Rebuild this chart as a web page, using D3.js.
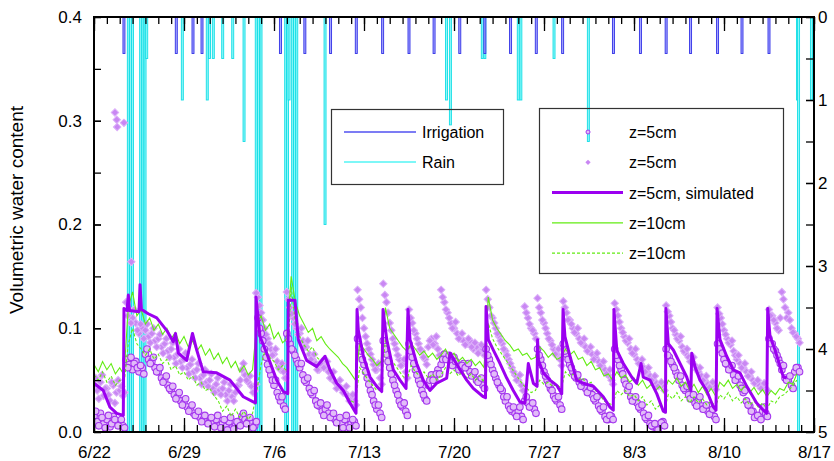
<!DOCTYPE html>
<meta charset="utf-8">
<style>
body { margin: 0; background: #fff; }
svg text { font-family: "Liberation Sans", Arial, sans-serif; fill: #000; }
.axis path { display: none; }
.axis line { stroke: #000; stroke-width: 1.3px; }
.axis text { font-size: 17px; }
.legend text { font-size: 16px; }
</style>
<body>
<script src="https://d3js.org/d3.v7.min.js"></script>
<script>

// days are counted from 6/22
var xTickDays = [0, 7, 14, 21, 28, 35, 42, 49, 56];
var xTickLabels = ["6/22", "6/29", "7/6", "7/13", "7/20", "7/27", "8/3", "8/10", "8/17"];
var leftTicks = [0, 0.1, 0.2, 0.3, 0.4];
var leftTickLabels = ["0.0", "0.1", "0.2", "0.3", "0.4"];
var rightTicks = [0, 1, 2, 3, 4, 5];

// irrigation and rain, hanging from the top (right axis)
var irrigationDays = [2.33, 6.4, 7.7, 8.4, 14.5, 16.4, 18.4, 20.4, 22.45, 24.5, 26.45, 28.45,
  30.4, 32.4, 34.4, 36.45, 40.4, 42.5, 44.5, 46.4, 48.5, 50.4, 52.5];
var irrigationAmount = [0.44, 0.44, 0.44, 0.44, 0.44, 0.44, 0.44, 0.44, 0.44, 0.44, 0.44, 0.44,
  0.44, 0.44, 0.44, 0.44, 0.44, 0.44, 0.44, 0.44, 0.44, 0.44, 0.44];
var rainDays = [2.67, 2.84, 2.99, 3.63, 3.8, 3.97, 4.1, 6.87, 8.81, 8.98, 9.28, 10.01, 10.79,
  11.67, 12.62, 12.8, 12.99, 14.91, 15.05, 15.17, 15.45, 15.6, 15.77, 17.97, 27.42, 27.72,
  30.2, 30.4, 33.0, 33.2, 35.78, 38.45, 54.72, 54.8, 55.8];
var rainAmount = [8, 8, 8, 8, 8, 8, 0.5, 1.0, 1.0, 0.5, 0.5, 0.5, 0.5,
  1.5, 8, 8, 8, 8, 8, 1.0, 8, 8, 8, 2.5, 1.0, 1.3,
  0.5, 0.5, 1.0, 1.0, 0.5, 1.5, 1.0, 8, 1.0];

// z=5cm simulated
var simDays = [0, 0.72, 1.24, 1.77, 2.28, 2.33, 2.57, 2.67, 2.76, 3.5, 3.58, 3.69, 3.97, 4.22,
  4.88, 5.65, 6.17, 6.34, 6.56, 7.21, 7.66, 7.99, 8.5, 9.54, 10.58, 11.61, 12.39, 12.56, 12.6,
  12.91, 13.43, 14.21, 14.72, 15.07, 15.11, 15.63, 15.89, 16.54, 17.32, 17.97, 18.36, 18.88,
  19.39, 19.91, 20.38, 20.46, 20.56, 20.95, 21.47, 21.99, 22.38, 22.48, 22.77, 23.28, 23.8,
  24.27, 24.42, 24.58, 25.1, 25.61, 26.13, 26.65, 27.43, 27.69, 28.47, 28.99, 29.5, 30.28,
  30.45, 30.49, 30.67, 31.06, 31.58, 32.1, 32.61, 33.13, 33.52, 33.78, 34.17, 34.46, 34.5,
  34.57, 34.95, 35.47, 35.99, 36.38, 36.48, 36.63, 37.02, 37.54, 38.06, 38.84, 39.61, 40.13,
  40.39, 40.44, 40.66, 41.17, 41.82, 42.21, 42.55, 42.72, 43.25, 43.77, 44.28, 44.45, 44.48,
  44.67, 45.06, 45.58, 46.1, 46.43, 46.49, 46.74, 47.13, 47.65, 48.17, 48.38, 48.46, 48.69,
  49.21, 49.72, 50.24, 50.77, 51.54, 52.06, 52.32, 52.4, 52.58, 52.97, 53.36, 53.62, 53.88];
var simValues = [0.047, 0.040, 0.024, 0.018, 0.016, 0.119, 0.117, 0.132, 0.117, 0.116, 0.142, 0.118, 0.116, 0.114,
  0.110, 0.098, 0.087, 0.095, 0.076, 0.069, 0.095, 0.079, 0.058, 0.057, 0.050, 0.034, 0.029, 0.028, 0.130,
  0.092, 0.076, 0.050, 0.039, 0.037, 0.127, 0.127, 0.089, 0.069, 0.063, 0.073, 0.060, 0.047,
  0.040, 0.028, 0.018, 0.118, 0.098, 0.073, 0.053, 0.044, 0.039, 0.118, 0.089, 0.060, 0.050,
  0.042, 0.118, 0.089, 0.066, 0.050, 0.040, 0.047, 0.052, 0.076, 0.060, 0.050, 0.042, 0.034,
  0.033, 0.121, 0.089, 0.079, 0.066, 0.052, 0.040, 0.029, 0.028, 0.066, 0.047, 0.044, 0.089,
  0.069, 0.057, 0.050, 0.045, 0.037, 0.118, 0.092, 0.073, 0.050, 0.047, 0.044, 0.034, 0.024,
  0.021, 0.118, 0.079, 0.066, 0.053, 0.047, 0.066, 0.053, 0.050, 0.037, 0.020, 0.019, 0.119,
  0.085, 0.079, 0.066, 0.053, 0.040, 0.076, 0.063, 0.050, 0.040, 0.024, 0.021, 0.119, 0.089,
  0.073, 0.060, 0.057, 0.044, 0.028, 0.021, 0.018, 0.119, 0.092, 0.079, 0.063, 0.053, 0.052];

// z=5cm observed, read every 3 hours from 6/22.
// "A" rows hold the readings at 0, 6, 12, 18 h; "B" rows the ones at 3, 9, 15, 21 h.
var obsStep = 0.25;
var obsCirclesA = [
  0.015, 0.010, 0.018, 0.008,   0.012, 0.005, 0.015, 0.010,   0.008, 0.006, 0.070, 0.065,
  0.060, 0.068, 0.058, 0.062,   0.075, 0.070, 0.068, 0.062,   0.058, 0.052, 0.050, 0.045,
  0.040, 0.036, 0.034, 0.030,   0.028, 0.024, 0.022, 0.018,   0.016, 0.014, 0.012, 0.010,
  0.010, 0.008, 0.012, 0.006,   0.008, 0.005, 0.010, 0.004,   0.006, 0.010, 0.015, 0.012,
  0.010, 0.008, 0.006, 0.110,   0.095, 0.080, 0.065, 0.055,   0.045, 0.038, 0.030, 0.025,
  0.095, 0.085, 0.078, 0.070,   0.062, 0.055, 0.048, 0.042,   0.036, 0.030, 0.025, 0.020,
  0.022, 0.018, 0.015, 0.012,   0.010, 0.008, 0.012, 0.006,   0.008, 0.010, 0.090, 0.078,
  0.065, 0.052, 0.040, 0.030,   0.022, 0.018, 0.088, 0.075,   0.062, 0.050, 0.040, 0.030,
  0.024, 0.020, 0.085, 0.072,   0.060, 0.050, 0.040, 0.032,   0.045, 0.055, 0.050, 0.060,
  0.065, 0.075, 0.070, 0.068,   0.072, 0.065, 0.060, 0.066,   0.062, 0.058, 0.055, 0.050,
  0.048, 0.045, 0.080, 0.070,   0.060, 0.052, 0.045, 0.040,   0.030, 0.025, 0.020, 0.018,
  0.020, 0.015, 0.030, 0.028,   0.025, 0.022, 0.080, 0.070,   0.058, 0.050, 0.042, 0.035,
  0.030, 0.026, 0.085, 0.075,   0.065, 0.058, 0.052, 0.048,   0.045, 0.042, 0.040, 0.036,
  0.030, 0.025, 0.020, 0.015,   0.012, 0.015, 0.080, 0.070,   0.060, 0.050, 0.040, 0.034,
  0.030, 0.028, 0.022, 0.018,   0.012, 0.008, 0.005, 0.004,   0.006, 0.010, 0.080, 0.072,
  0.065, 0.058, 0.050, 0.045,   0.040, 0.036, 0.032, 0.028,   0.030, 0.025, 0.022, 0.020,
  0.018, 0.015, 0.085, 0.080,   0.070, 0.065, 0.060, 0.055,   0.050, 0.045, 0.038, 0.030,
  0.025, 0.020, 0.015, 0.015,   0.020, 0.018, 0.090, 0.085,   0.078, 0.070, 0.060, 0.052,
  0.050, 0.045, 0.058, 0.062
];
var obsCirclesB = [
  0.020, 0.006, 0.014, 0.004,   0.016, 0.008, 0.012, 0.006,   0.012, 0.004, 0.062, 0.072,
  0.066, 0.062, 0.064, 0.056,   0.080, 0.066, 0.072, 0.058,   0.062, 0.048, 0.054, 0.042,
  0.044, 0.032, 0.038, 0.026,   0.032, 0.020, 0.026, 0.016,   0.020, 0.010, 0.016, 0.008,
  0.014, 0.005, 0.016, 0.004,   0.012, 0.002, 0.014, 0.003,   0.010, 0.006, 0.018, 0.008,
  0.014, 0.004, 0.010, 0.100,   0.088, 0.072, 0.060, 0.050,   0.050, 0.034, 0.034, 0.022,
  0.090, 0.080, 0.074, 0.066,   0.066, 0.050, 0.052, 0.038,   0.040, 0.026, 0.028, 0.016,
  0.026, 0.014, 0.018, 0.009,   0.014, 0.004, 0.016, 0.004,   0.012, 0.006, 0.082, 0.070,
  0.058, 0.046, 0.036, 0.026,   0.026, 0.014, 0.080, 0.068,   0.056, 0.045, 0.036, 0.026,
  0.028, 0.016, 0.078, 0.066,   0.055, 0.046, 0.036, 0.030,   0.050, 0.050, 0.056, 0.056,
  0.070, 0.070, 0.074, 0.064,   0.068, 0.060, 0.064, 0.062,   0.066, 0.054, 0.058, 0.048,
  0.052, 0.042, 0.074, 0.065,   0.056, 0.048, 0.042, 0.034,   0.034, 0.022, 0.024, 0.015,
  0.024, 0.012, 0.034, 0.024,   0.028, 0.018, 0.074, 0.064,   0.054, 0.046, 0.040, 0.032,
  0.034, 0.022, 0.078, 0.070,   0.062, 0.054, 0.055, 0.044,   0.048, 0.038, 0.043, 0.032,
  0.034, 0.022, 0.024, 0.012,   0.016, 0.012, 0.074, 0.064,   0.056, 0.046, 0.044, 0.030,
  0.034, 0.024, 0.026, 0.014,   0.016, 0.006, 0.008, 0.002,   0.009, 0.006, 0.074, 0.068,
  0.062, 0.054, 0.054, 0.042,   0.044, 0.032, 0.036, 0.025,   0.034, 0.022, 0.026, 0.017,
  0.022, 0.012, 0.080, 0.076,   0.066, 0.060, 0.064, 0.050,   0.054, 0.042, 0.040, 0.026,
  0.020, 0.014, 0.016, 0.012,   0.024, 0.015, 0.085, 0.080,   0.074, 0.066, 0.064, 0.050,
  0.054, 0.042, 0.062, 0.058
];
var obsDiamondsA = [
  0.045, 0.040, 0.048, 0.035,   0.042, 0.030, 0.045, 0.038,   0.040, 0.035, 0.125, 0.118,
  0.110, 0.105, 0.095, 0.100,   0.098, 0.092, 0.095, 0.088,   0.090, 0.082, 0.085, 0.078,
  0.080, 0.072, 0.075, 0.068,   0.070, 0.062, 0.065, 0.058,   0.060, 0.052, 0.055, 0.048,
  0.050, 0.042, 0.046, 0.040,   0.042, 0.036, 0.040, 0.034,   0.038, 0.045, 0.060, 0.055,
  0.048, 0.044, 0.040, 0.130,   0.115, 0.100, 0.090, 0.080,   0.075, 0.068, 0.060, 0.058,
  0.135, 0.120, 0.110, 0.100,   0.095, 0.088, 0.082, 0.075,   0.070, 0.066, 0.060, 0.068,
  0.062, 0.058, 0.052, 0.048,   0.045, 0.042, 0.038, 0.035,   0.032, 0.030, 0.137, 0.120,
  0.100, 0.085, 0.075, 0.065,   0.060, 0.052, 0.143, 0.125,   0.105, 0.090, 0.080, 0.070,
  0.065, 0.058, 0.118, 0.105,   0.095, 0.085, 0.078, 0.070,   0.082, 0.090, 0.085, 0.080,
  0.137, 0.125, 0.115, 0.105,   0.100, 0.095, 0.090, 0.088,   0.085, 0.088, 0.080, 0.082,
  0.078, 0.080, 0.137, 0.120,   0.110, 0.100, 0.092, 0.085,   0.078, 0.070, 0.062, 0.055,
  0.050, 0.045, 0.121, 0.110,   0.100, 0.095, 0.129, 0.115,   0.105, 0.095, 0.088, 0.080,
  0.075, 0.070, 0.126, 0.115,   0.108, 0.100, 0.095, 0.090,   0.085, 0.082, 0.078, 0.075,
  0.072, 0.068, 0.064, 0.060,   0.055, 0.050, 0.124, 0.112,   0.100, 0.092, 0.086, 0.080,
  0.075, 0.070, 0.066, 0.062,   0.058, 0.054, 0.050, 0.047,   0.045, 0.044, 0.122, 0.112,
  0.100, 0.094, 0.088, 0.082,   0.076, 0.072, 0.068, 0.064,   0.058, 0.054, 0.050, 0.046,
  0.045, 0.044, 0.120, 0.110,   0.098, 0.090, 0.084, 0.078,   0.070, 0.066, 0.062, 0.058,
  0.054, 0.050, 0.047, 0.045,   0.044, 0.042, 0.118, 0.112,   0.105, 0.098, 0.135, 0.120,
  0.115, 0.100, 0.095, 0.090
];
var obsDiamondsB = [
  0.052, 0.032, 0.055, 0.042,   0.036, 0.048, 0.028, 0.050,   0.044, 0.038, 0.112, 0.105,
  0.118, 0.098, 0.104, 0.090,   0.104, 0.086, 0.100, 0.082,   0.094, 0.076, 0.090, 0.072,
  0.086, 0.066, 0.080, 0.062,   0.076, 0.056, 0.070, 0.052,   0.066, 0.046, 0.060, 0.044,
  0.056, 0.038, 0.052, 0.036,   0.048, 0.030, 0.046, 0.030,   0.044, 0.050, 0.066, 0.050,
  0.054, 0.038, 0.046, 0.122,   0.108, 0.094, 0.085, 0.074,   0.080, 0.062, 0.066, 0.052,
  0.128, 0.114, 0.104, 0.094,   0.100, 0.082, 0.088, 0.070,   0.075, 0.060, 0.066, 0.062,
  0.068, 0.052, 0.058, 0.042,   0.050, 0.038, 0.044, 0.030,   0.036, 0.026, 0.128, 0.110,
  0.092, 0.080, 0.070, 0.060,   0.066, 0.046, 0.132, 0.115,   0.098, 0.085, 0.074, 0.064,
  0.070, 0.052, 0.110, 0.098,   0.090, 0.080, 0.072, 0.065,   0.088, 0.084, 0.092, 0.074,
  0.130, 0.118, 0.110, 0.100,   0.106, 0.090, 0.095, 0.084,   0.090, 0.082, 0.086, 0.076,
  0.084, 0.074, 0.128, 0.112,   0.105, 0.095, 0.088, 0.080,   0.074, 0.066, 0.058, 0.050,
  0.055, 0.040, 0.115, 0.104,   0.098, 0.090, 0.120, 0.108,   0.100, 0.090, 0.084, 0.075,
  0.080, 0.064, 0.120, 0.108,   0.104, 0.096, 0.100, 0.086,   0.090, 0.078, 0.082, 0.070,
  0.076, 0.064, 0.068, 0.056,   0.060, 0.046, 0.118, 0.106,   0.096, 0.088, 0.090, 0.076,
  0.080, 0.066, 0.070, 0.058,   0.062, 0.050, 0.054, 0.044,   0.048, 0.040, 0.116, 0.106,
  0.098, 0.090, 0.092, 0.078,   0.080, 0.068, 0.072, 0.060,   0.062, 0.050, 0.054, 0.043,
  0.048, 0.041, 0.114, 0.104,   0.094, 0.086, 0.088, 0.074,   0.074, 0.062, 0.066, 0.054,
  0.058, 0.047, 0.050, 0.042,   0.047, 0.040, 0.112, 0.108,   0.100, 0.110, 0.128, 0.110,
  0.108, 0.096, 0.092, 0.086
];
// odd high readings
var obsExtraDays = [1.63, 1.77, 1.8, 2.33, 2.9, 12.62];
var obsExtraValues = [0.308, 0.301, 0.294, 0.298, 0.164, 0.134];

// z=10cm, one value every 8 hours (one group of three per day)
var z10Step = 1 / 3;
var z10Solid = [
  0.065, 0.058, 0.068,  0.060, 0.066, 0.056,  0.062, 0.055, 0.120,  0.135, 0.112, 0.118,
  0.104, 0.110, 0.098,  0.104, 0.094, 0.100,  0.090, 0.096, 0.085,  0.092, 0.082, 0.088,
  0.078, 0.084, 0.074,  0.080, 0.070, 0.076,  0.066, 0.072, 0.062,  0.068, 0.058, 0.064,
  0.055, 0.060, 0.105,  0.112, 0.098, 0.104,  0.090, 0.096, 0.086,  0.090, 0.150, 0.125,
  0.112, 0.104, 0.096,  0.100, 0.088, 0.092,  0.085, 0.080, 0.076,  0.072, 0.066, 0.062,
  0.056, 0.050, 0.085,  0.080, 0.074, 0.070,  0.064, 0.068, 0.120,  0.100, 0.094, 0.088,
  0.082, 0.078, 0.085,  0.080, 0.074, 0.078,  0.072, 0.076, 0.070,  0.074, 0.080, 0.072,
  0.076, 0.068, 0.072,  0.066, 0.070, 0.064,  0.068, 0.062, 0.130,  0.108, 0.100, 0.094,
  0.088, 0.084, 0.078,  0.080, 0.074, 0.076,  0.070, 0.072, 0.082,  0.078, 0.072, 0.076,
  0.070, 0.072, 0.080,  0.074, 0.078, 0.070,  0.072, 0.064, 0.068,  0.060, 0.062, 0.054,
  0.056, 0.050, 0.058,  0.052, 0.055, 0.048,  0.052, 0.045, 0.050,  0.042, 0.046, 0.040,
  0.044, 0.038, 0.050,  0.046, 0.052, 0.044,  0.048, 0.040, 0.046,  0.038, 0.044, 0.036,
  0.042, 0.035, 0.048,  0.044, 0.050, 0.042,  0.046, 0.040, 0.045,  0.038, 0.043, 0.036,
  0.041, 0.034, 0.040,  0.036, 0.042, 0.040,  0.048, 0.046, 0.056
];
var z10Dashed = [
  0.055, 0.050, 0.058,  0.048, 0.054, 0.045,  0.050, 0.046, 0.085,  0.100, 0.085, 0.080,
  0.074, 0.080, 0.070,  0.075, 0.066, 0.070,  0.060, 0.064, 0.055,  0.058, 0.050, 0.054,
  0.045, 0.048, 0.040,  0.042, 0.035, 0.030,  0.020, 0.025, 0.015,  0.022, 0.014, 0.020,
  0.012, 0.018, 0.040,  0.065, 0.080, 0.072,  0.068, 0.060, 0.064,  0.058, 0.140, 0.105,
  0.092, 0.084, 0.078,  0.082, 0.072, 0.068,  0.070, 0.058, 0.052,  0.046, 0.040, 0.034,
  0.030, 0.028, 0.062,  0.056, 0.050, 0.045,  0.040, 0.042, 0.090,  0.072, 0.066, 0.060,
  0.054, 0.050, 0.064,  0.058, 0.054, 0.058,  0.052, 0.056, 0.050,  0.055, 0.062, 0.056,
  0.060, 0.054, 0.058,  0.052, 0.056, 0.050,  0.054, 0.048, 0.105,  0.090, 0.082, 0.076,
  0.070, 0.064, 0.058,  0.052, 0.046, 0.042,  0.038, 0.040, 0.050,  0.046, 0.048, 0.044,
  0.046, 0.042, 0.058,  0.054, 0.056, 0.050,  0.052, 0.046, 0.048,  0.040, 0.036, 0.030,
  0.028, 0.026, 0.040,  0.036, 0.040, 0.034,  0.036, 0.030, 0.034,  0.026, 0.030, 0.022,
  0.026, 0.020, 0.036,  0.032, 0.038, 0.030,  0.034, 0.028, 0.034,  0.028, 0.032, 0.026,
  0.030, 0.024, 0.036,  0.032, 0.038, 0.030,  0.034, 0.028, 0.032,  0.026, 0.030, 0.024,
  0.028, 0.022, 0.030,  0.028, 0.034, 0.036,  0.040, 0.044, 0.050
];

// colours
var cIrr = "#3030e6", cIrrFill = "#a8a8ff", cIrrLegend = "#7c7cf4";
var cRain = "#12dde6", cRainFill = "#8ef8f8", cRainLegend = "#7ef7f7";
var cSim = "#9b00f0", cObs = "#a437ee", cObsFill = "#e2bcf8", cDia = "#c987f3";
var cGreen = "#62ec12";

// plot box ("top" is taken on window, so pT etc.)
var W = 834, H = 461;
var pL = 94, pR = 814, pT = 17, pB = 432;

var svg = d3.select("body").append("svg")
    .attr("width", W)
    .attr("height", H);

var x = d3.scaleLinear().domain([0, 56]).range([pL, pR]);
var y = d3.scaleLinear().domain([0, 0.4]).range([pB, pT]);
var yR = d3.scaleLinear().domain([0, 5]).range([pT, pB]);

svg.append("clipPath").attr("id", "plot")
  .append("rect")
    .attr("x", pL).attr("y", pT)
    .attr("width", pR - pL).attr("height", pB - pT);

var plot = svg.append("g").attr("clip-path", "url(#plot)");

// rain and irrigation bars
function bars(days, amounts, fill, stroke) {
  plot.append("g").selectAll("rect")
      .data(days)
    .enter().append("rect")
      .attr("x", function(d) { return x(d) - 1; })
      .attr("y", yR(0))
      .attr("width", 2)
      .attr("height", function(d, i) { return yR(amounts[i]) - yR(0); })
      .attr("fill", fill)
      .attr("stroke", stroke)
      .attr("stroke-width", 0.9);
}
bars(rainDays, rainAmount, cRainFill, cRain);
bars(irrigationDays, irrigationAmount, cIrrFill, cIrr);

// observed z=5cm
var diamond = d3.symbol().type(d3.symbolSquare).size(28);

function diamonds(vals, dayOf) {
  plot.append("g").selectAll("path")
      .data(vals)
    .enter().append("path")
      .attr("transform", function(d, i) { return "translate(" + x(dayOf(i)) + "," + y(d) + ") rotate(45)"; })
      .attr("d", diamond)
      .attr("fill", cDia)
      .attr("stroke", "#dcb0f9")
      .attr("stroke-width", 1);
}
diamonds(obsDiamondsA, function(i) { return i * obsStep; });
diamonds(obsDiamondsB, function(i) { return i * obsStep + obsStep / 2; });
diamonds(obsExtraValues, function(i) { return obsExtraDays[i]; });

function circles(vals, offset) {
  plot.append("g").selectAll("circle")
      .data(vals)
    .enter().append("circle")
      .attr("cx", function(d, i) { return x(i * obsStep + offset); })
      .attr("cy", function(d) { return y(d); })
      .attr("r", 3.3)
      .attr("fill", cObsFill)
      .attr("stroke", cObs)
      .attr("stroke-width", 1.1);
}
circles(obsCirclesA, 0);
circles(obsCirclesB, obsStep / 2);

// z=10cm lines, over the markers
var zline = d3.line()
    .x(function(d, i) { return x(i * z10Step); })
    .y(function(d) { return y(d); });

plot.append("path")
    .datum(z10Dashed)
    .attr("fill", "none")
    .attr("stroke", cGreen)
    .attr("stroke-width", 1.1)
    .attr("stroke-dasharray", "3,2")
    .attr("d", zline);

plot.append("path")
    .datum(z10Solid)
    .attr("fill", "none")
    .attr("stroke", cGreen)
    .attr("stroke-width", 1.1)
    .attr("d", zline);

// simulated z=5cm
plot.append("path")
    .datum(simValues)
    .attr("fill", "none")
    .attr("stroke", cSim)
    .attr("stroke-width", 3)
    .attr("stroke-linejoin", "round")
    .attr("d", d3.line()
        .x(function(d, i) { return x(simDays[i]); })
        .y(function(d) { return y(d); }));

// axes, all ticks pointing inward
svg.append("g").attr("class", "axis")
    .attr("transform", "translate(0," + pB + ")")
    .call(d3.axisBottom(x).tickValues(d3.range(0, 57)).tickSize(-7).tickFormat(""));
svg.append("g").attr("class", "axis")
    .attr("transform", "translate(0," + pB + ")")
    .call(d3.axisBottom(x).tickValues(xTickDays).tickSize(-14).tickPadding(14)
      .tickFormat(function(d, i) { return xTickLabels[i]; }));

svg.append("g").attr("class", "axis")
    .attr("transform", "translate(0," + pT + ")")
    .call(d3.axisTop(x).tickValues(d3.range(0, 57)).tickSize(-7).tickFormat(""));
svg.append("g").attr("class", "axis")
    .attr("transform", "translate(0," + pT + ")")
    .call(d3.axisTop(x).tickValues(xTickDays).tickSize(-14).tickFormat(""));

svg.append("g").attr("class", "axis")
    .attr("transform", "translate(" + pL + ",0)")
    .call(d3.axisLeft(y).tickValues(d3.range(0, 0.401, 0.05)).tickSize(-7).tickFormat(""));
svg.append("g").attr("class", "axis")
    .attr("transform", "translate(" + pL + ",0)")
    .call(d3.axisLeft(y).tickValues(leftTicks).tickSize(-7).tickPadding(12)
      .tickFormat(function(d, i) { return leftTickLabels[i]; }));

svg.append("g").attr("class", "axis")
    .attr("transform", "translate(" + pR + ",0)")
    .call(d3.axisRight(yR).tickValues(d3.range(0, 5.01, 0.5)).tickSize(-8).tickFormat(""));
svg.append("g").attr("class", "axis")
    .attr("transform", "translate(" + pR + ",0)")
    .call(d3.axisRight(yR).tickValues(rightTicks).tickSize(-8).tickPadding(4)
      .tickFormat(d3.format("d")));

// frame
svg.append("rect")
    .attr("x", pL).attr("y", pT)
    .attr("width", pR - pL).attr("height", pB - pT)
    .attr("fill", "none")
    .attr("stroke", "#000")
    .attr("stroke-width", 2);

svg.append("text")
    .attr("transform", "translate(23,210) rotate(-90)")
    .attr("text-anchor", "middle")
    .style("font-size", "19px")
    .text("Volumetric water content");

// legends (no fill, the bars show through)
var leg1 = svg.append("g").attr("class", "legend");
leg1.append("rect")
    .attr("x", 331.5).attr("y", 109.5).attr("width", 172).attr("height", 75)
    .attr("fill", "none").attr("stroke", "#333").attr("stroke-width", 1.2);
[["Irrigation", cIrrLegend], ["Rain", cRainLegend]].forEach(function(e, i) {
  var ly = 132 + i * 30;
  leg1.append("line").attr("x1", 344).attr("x2", 416).attr("y1", ly).attr("y2", ly)
      .attr("stroke", e[1]).attr("stroke-width", 2);
  leg1.append("text").attr("x", 422).attr("y", ly + 6).text(e[0]);
});

var leg2 = svg.append("g").attr("class", "legend");
leg2.append("rect")
    .attr("x", 539.5).attr("y", 108.5).attr("width", 244).attr("height", 165)
    .attr("fill", "none").attr("stroke", "#333").attr("stroke-width", 1.2);
var leg2Labels = ["z=5cm", "z=5cm", "z=5cm, simulated", "z=10cm", "z=10cm"];
leg2Labels.forEach(function(t, i) {
  var ly = 132 + i * 30.3;
  if (i == 0) {
    leg2.append("circle").attr("cx", 588).attr("cy", ly).attr("r", 2)
        .attr("fill", cObsFill).attr("stroke", cObs).attr("stroke-width", 1);
  } else if (i == 1) {
    leg2.append("path").attr("transform", "translate(588," + ly + ") rotate(45)")
        .attr("d", d3.symbol().type(d3.symbolSquare).size(14)).attr("fill", cDia);
  } else {
    leg2.append("line").attr("x1", 552).attr("x2", 623).attr("y1", ly).attr("y2", ly)
        .attr("stroke", i == 2 ? cSim : cGreen)
        .attr("stroke-width", i == 2 ? 3 : 1.2)
        .attr("stroke-dasharray", i == 4 ? "3,2" : null);
  }
  leg2.append("text").attr("x", 629).attr("y", ly + 6).text(t);
});

</script>
</body>
